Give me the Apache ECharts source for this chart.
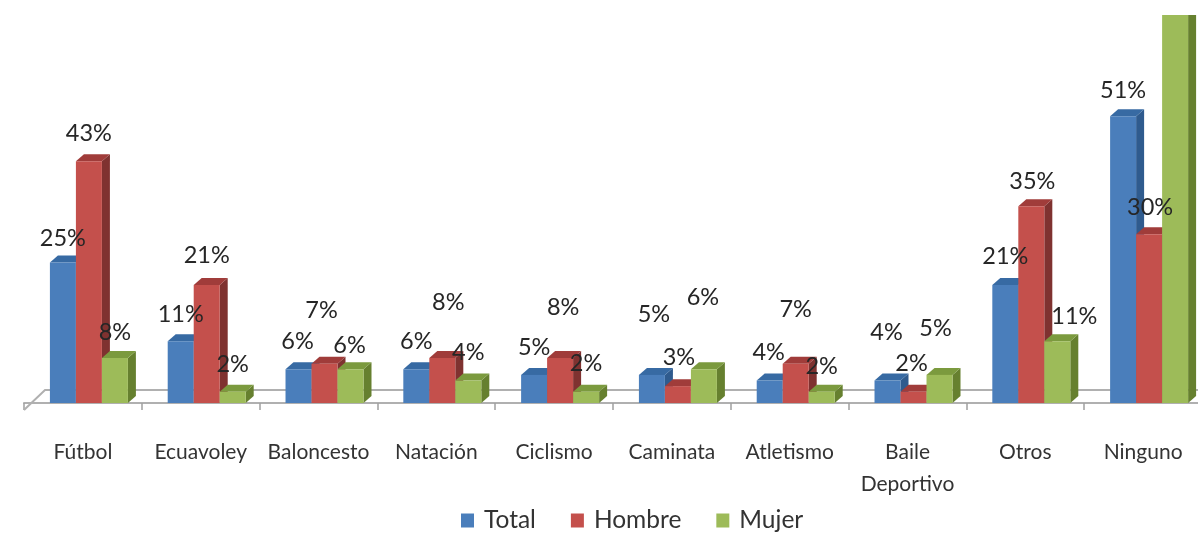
<!DOCTYPE html>
<html>
<head>
<meta charset="utf-8">
<style>html,body{margin:0;padding:0;background:#fff}#c{width:1198px;height:533px}</style>
<script src="https://cdn.jsdelivr.net/npm/echarts@6/dist/echarts.min.js"></script>
</head>
<body>
<div id="c"></div>
<script>
const categories = ['Fútbol','Ecuavoley','Baloncesto','Natación','Ciclismo','Caminata','Atletismo','Baile\nDeportivo','Otros','Ninguno'];
const total  = [25,11,6,6,5,5,4,4,21,51];
const hombre = [43,21,7,8,8,3,7,2,35,30];
const mujer  = [8,2,6,4,2,6,2,5,11,70]; // last bar runs off the top of the picture; its height is an estimate

// Hand-placed label nudges of the original, [dx, dy] in px from the top centre of each bar
const nudgeTotal  = [[0,-24],[0,-27],[-1,-28],[0,-28],[0,-27],[2,-60],[-1,-28],[-1,-48],[0,-28],[0,-26]];
const nudgeHombre = [[0,-28],[0,-29],[-3,-53],[6,-56],[3,-51],[1,-29],[0,-54],[-2,-28],[1,-25],[1,-27]];
const nudgeMujer  = [[0,-26],[0,-27],[-1,-24],[0,-28],[0,-28],[-1,-72],[0,-25],[-4,-46],[17,-25],null];

const FONT = 'Lato, "Open Sans", sans-serif';
const DX = 8, DY = 7;

function bar3d(slot, faces, values, nudges) {
  return function (params, api) {
    const i = api.value(0), v = api.value(1);
    const band = api.size([1, 0])[0];
    const w = band * 0.2207;
    const c = api.coord([i, v]);
    const b = api.coord([i, 0]);
    const x0 = c[0] + band * 0.051 + (slot - 0.5) * w - w;
    const x1 = x0 + w, yt = c[1], yb = b[1];
    const kids = [
      { type: 'polygon', shape: { points: [[x1,yb],[x1+DX,yb-DY],[x1+DX,yt-DY],[x1,yt]] }, style: { fill: faces.side } },
      { type: 'polygon', shape: { points: [[x0,yt],[x0+DX,yt-DY],[x1+DX,yt-DY],[x1,yt]] }, style: { fill: faces.top } },
      { type: 'rect', shape: { x: x0, y: yt, width: w, height: yb - yt }, style: { fill: faces.front } }
    ];
    const n = nudges[i];
    if (n) {
      kids.push({
        type: 'text', z2: 100,
        style: { x: (x0 + x1) / 2 + n[0], y: yt + n[1], text: values[i] + '%', fill: '#262626',
                 font: '23.5px ' + FONT, align: 'center', verticalAlign: 'middle' }
      });
    }
    return { type: 'group', children: kids };
  };
}

function barSeries(name, slot, values, faces, nudges) {
  return {
    type: 'custom', name: name, clip: true, z: 3,
    coordinateSystem: 'cartesian2d',
    itemStyle: { color: faces.front },
    encode: { x: 0, y: 1 },
    data: values.map((v, i) => [i, v]),
    renderItem: bar3d(slot, faces, values, nudges)
  };
}

const chart = echarts.init(document.getElementById('c'), null, { renderer: 'canvas' });
chart.setOption({
  animation: false,
  backgroundColor: '#fff',
  grid: { left: 24, top: 15, width: 1178, height: 388, containLabel: false, outerBoundsMode: 'none' },
  legend: {
    data: ['Total','Hombre','Mujer'], left: 456, top: 503, icon: 'rect',
    itemWidth: 13, itemHeight: 14, itemGap: 35, selectedMode: false,
    textStyle: { fontSize: 24.5, fontFamily: FONT, color: '#333', padding: [0,0,0,5] }
  },
  xAxis: {
    type: 'category', data: categories, offset: 7,
    axisLine: { show: true, lineStyle: { color: '#b0b0b0', width: 2 } },
    axisTick: { show: true, length: 7, alignWithLabel: false, lineStyle: { color: '#a0a0a0', width: 1.5 } },
    axisLabel: { interval: 0, margin: 26, fontSize: 21, lineHeight: 32, fontFamily: FONT, color: '#333' }
  },
  yAxis: { type: 'value', min: 0, max: 69, show: false, splitLine: { show: false } },
  series: [
    {
      type: 'custom', name: 'suelo', silent: true, z: 1, clip: false,
      coordinateSystem: 'cartesian2d', encode: { x: 0, y: 1 }, data: [[0, 0]],
      renderItem: function (params, api) {
        const cs = params.coordSys, yb = cs.y + cs.height;
        return { type: 'polyline',
          shape: { points: [[cs.x, yb + 7], [cs.x + 21, yb - 13], [cs.x + cs.width, yb - 13]] },
          style: { stroke: '#b0b0b0', lineWidth: 2, fill: null } };
      }
    },
    barSeries('Total', 0, total, { front: '#4a7ebb', side: '#2f5b8e', top: '#376aa3' }, nudgeTotal),
    barSeries('Hombre', 1, hombre, { front: '#c4504c', side: '#7f3230', top: '#a03c3a' }, nudgeHombre),
    barSeries('Mujer', 2, mujer, { front: '#9dbb59', side: '#66802f', top: '#7b9a3e' }, nudgeMujer)
  ]
});
</script>
</body>
</html>
